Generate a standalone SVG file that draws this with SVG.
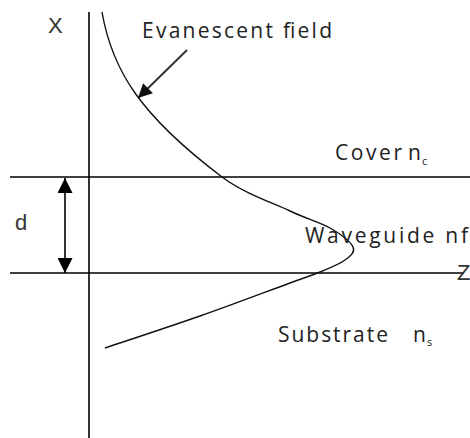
<svg xmlns="http://www.w3.org/2000/svg" width="470" height="438" viewBox="0 0 470 438">
<style>
.ln{stroke:#000;stroke-width:1.6;fill:none}
.curve{stroke:#111;stroke-width:1.4;fill:none}
.lbl{font-family:"Open Sans","Liberation Sans",sans-serif;font-size:21px;fill:#222}
.sub{font-family:"Open Sans","Liberation Sans",sans-serif;font-size:11px;fill:#222}
.ax{font-family:"Liberation Sans",Arial,sans-serif;font-size:22px;fill:#333}
</style>
<defs>
<marker id="ah" viewBox="0 0 10 10" refX="10" refY="5" markerWidth="15" markerHeight="15" markerUnits="userSpaceOnUse" orient="auto-start-reverse">
<path d="M0,0 L10,5 L0,10 z" fill="#000"/>
</marker>
<marker id="ah2" viewBox="0 0 10 10" refX="10" refY="5" markerWidth="15" markerHeight="14" markerUnits="userSpaceOnUse" orient="auto">
<path d="M0,0 L10,5 L0,10 z" fill="#111"/>
</marker>
</defs>
<rect width="470" height="438" fill="#fff"/>
<g id="axes">
<line class="ln" x1="89" y1="12" x2="89" y2="438"/>
<line class="ln" x1="10" y1="177" x2="470" y2="177"/>
<line class="ln" x1="10" y1="273" x2="464" y2="273"/>
</g>
<g id="connectors">
<line class="ln" x1="65" y1="178" x2="65" y2="273" marker-start="url(#ah)" marker-end="url(#ah)"/>
<line x1="187" y1="50" x2="138" y2="98" stroke="#333" stroke-width="2" marker-end="url(#ah2)"/>
</g>
<g id="field">
<path class="curve" d="M102,12 C112,70 140,115 222,177 C245,194 272,202.5 290,211 C308,219.5 319.5,222 330,228 C340.5,234 350.5,241.7 353,247 C355.5,252.3 350.5,255.8 345,260 C339.5,264.2 329.2,268.2 320,272 C310.8,275.8 310,275.7 290,283 C270,290.3 230.8,305.2 200,316 C169.2,326.8 120.8,342.7 105,348"/>
</g>
<g id="label-x"><text class="ax" x="48" y="33">X</text></g>
<g id="label-z"><text class="ax" x="457" y="280">Z</text></g>
<g id="label-d"><text class="ax" x="15" y="230">d</text></g>
<g id="label-evanescent"><text class="lbl" x="142" y="38" textLength="190" lengthAdjust="spacing">Evanescent field</text></g>
<g id="label-cover"><text class="lbl" x="335" y="160" textLength="67" lengthAdjust="spacing">Cover</text><text class="lbl" x="408" y="160">n</text><text class="sub" x="422" y="165">c</text></g>
<g id="label-waveguide"><text class="lbl" x="305" y="243" textLength="163" lengthAdjust="spacing">Waveguide nf</text></g>
<g id="label-substrate"><text class="lbl" x="278" y="342" textLength="110" lengthAdjust="spacing">Substrate</text><text class="lbl" x="413" y="342">n</text><text class="sub" x="427" y="346">s</text></g>
</svg>
